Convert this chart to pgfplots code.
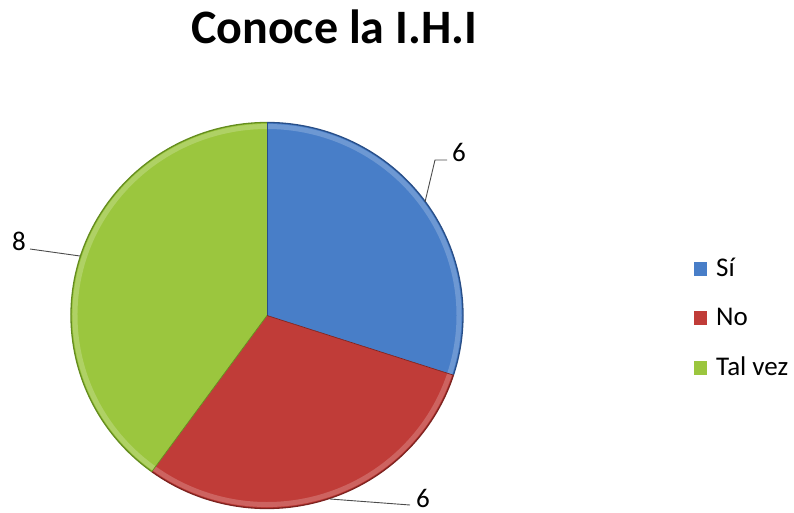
\documentclass[border=0pt]{standalone}
\usepackage{fontspec}
\setmainfont{Carlito}
\usepackage{pgfplots}
\usepackage{pgfplotstable}
\pgfplotsset{compat=1.18}
\definecolor{cSi}{RGB}{72,126,200}
\definecolor{cNo}{RGB}{192,60,56}
\definecolor{cTv}{RGB}{155,198,62}
\definecolor{dSi}{RGB}{40,78,135}
\definecolor{dNo}{RGB}{125,35,32}
\definecolor{dTv}{RGB}{100,140,30}
\pgfplotstableread{
label value
Si 6
No 6
Talvez 8
}\piedata
\begin{document}%
\begin{tikzpicture}
\pgfplotstablegetelem{0}{value}\of\piedata \let\va\pgfplotsretval
\pgfplotstablegetelem{1}{value}\of\piedata \let\vb\pgfplotsretval
\pgfplotstablegetelem{2}{value}\of\piedata \let\vc\pgfplotsretval
\pgfmathsetmacro\tot{\va+\vb+\vc}
\pgfmathsetmacro\aA{90}
\pgfmathsetmacro\aB{90-360*\va/\tot}
\pgfmathsetmacro\aC{\aB-360*\vb/\tot}
\pgfmathsetmacro\aD{\aC-360*\vc/\tot}
\begin{axis}[width=794pt,height=513pt,scale only axis,
  xmin=0,xmax=794,ymin=0,ymax=513,y dir=reverse,hide axis,clip=false]
\newcommand\slice[4]{%
  \fill[#3] (axis cs:267,315.5) -- ++(#1:196pt and 193pt)
    arc[start angle=#1,end angle=#2,x radius=196pt,y radius=193pt] -- cycle;
  \begin{scope}
  \clip (axis cs:267,315.5) -- ++(#1:196pt and 193pt)
    arc[start angle=#1,end angle=#2,x radius=196pt,y radius=193pt] -- cycle;
  \draw[#3!80!white,line width=5pt] (axis cs:267,315.5) ++(#1:192pt and 189pt)
    arc[start angle=#1,end angle=#2,x radius=192pt,y radius=189pt];
  \end{scope}
  \draw[#4,line width=1.3pt] (axis cs:267,315.5) ++(#1:196pt and 193pt)
    arc[start angle=#1,end angle=#2,x radius=196pt,y radius=193pt];
}
\slice{\aA}{\aB}{cSi}{dSi}
\slice{\aB}{\aC}{cNo}{dNo}
\slice{\aC}{\aD}{cTv}{dTv}
\draw[dSi,line width=0.7pt] (axis cs:267,315.5) -- ++(\aA:196pt and 193pt);
\draw[dNo,line width=0.7pt] (axis cs:267,315.5) -- ++(\aB:196pt and 193pt);
\draw[dTv,line width=0.7pt] (axis cs:267,315.5) -- ++(\aC:196pt and 193pt);
% title
\node[anchor=base,font=\fontsize{48}{54}\selectfont\bfseries] at (axis cs:334,44) {Conoce la I.H.I};
% leader lines and data labels
\draw[black!70,line width=0.9pt] (axis cs:425,202) -- (axis cs:435,160) -- (axis cs:447,160);
\node[anchor=base west,font=\fontsize{27}{30}\selectfont,inner sep=0pt] at (axis cs:452,161) {\va};
\draw[black!70,line width=0.9pt] (axis cs:330,499) -- (axis cs:410,505);
\node[anchor=base west,font=\fontsize{27}{30}\selectfont,inner sep=0pt] at (axis cs:416,507) {\vb};
\draw[black!70,line width=0.9pt] (axis cs:30,249) -- (axis cs:80,256);
\node[anchor=base west,font=\fontsize{27}{30}\selectfont,inner sep=0pt] at (axis cs:12,250) {\vc};
% legend
\fill[cSi] (axis cs:694,262) rectangle (axis cs:707,276);
\fill[cNo] (axis cs:694,311) rectangle (axis cs:707,325);
\fill[cTv] (axis cs:694,361) rectangle (axis cs:707,375);
\node[anchor=base west,font=\fontsize{27}{30}\selectfont,inner sep=0pt] at (axis cs:716,276) {Sí};
\node[anchor=base west,font=\fontsize{27}{30}\selectfont,inner sep=0pt] at (axis cs:716,325) {No};
\node[anchor=base west,font=\fontsize{27}{30}\selectfont,inner sep=0pt] at (axis cs:716,375) {Tal vez};
\end{axis}
\pgfresetboundingbox
\path (current axis.south west) rectangle (current axis.north east);
\end{tikzpicture}%
\end{document}
